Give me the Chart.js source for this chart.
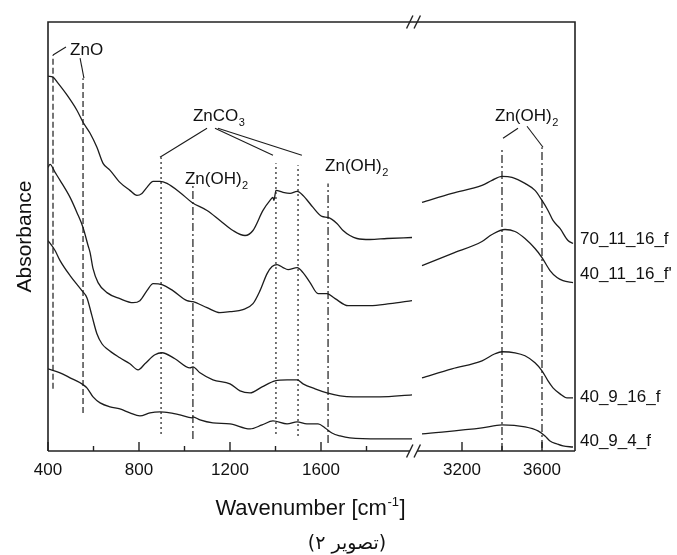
<!DOCTYPE html>
<html><head><meta charset="utf-8">
<script src="https://cdn.jsdelivr.net/npm/chart.js@4.4.1/dist/chart.umd.min.js"></script>
<style>html,body{margin:0;padding:0;background:#fff;}</style>
</head><body>
<canvas id="c" width="677" height="555"></canvas>
<script>
// ---------------- data (wavenumber in cm-1, absorbance in arbitrary units) ----------------
const seriesNames = ['70_11_16_f', "40_11_16_f'", '40_9_16_f', '40_9_4_f'];

const s70_11_16_wn  = [400,422,444,484,527,554,585,615,642,673,716,760,791,813,835,862,892,923,980,1033,1099,1156,1213,1266,1301,1345,1376,1389,1393,1402,1433,1464,1495,1521,1565,1604,1631,1670,1697,1727,1758,1815,1890,2000,
                       3000,3150,3300,3350,3400,3450,3515,3565,3600,3630,3655,3690,3730,3755];
const s70_11_16_abs = [3.74,3.73,3.67,3.55,3.40,3.28,3.17,3.03,2.87,2.80,2.68,2.60,2.55,2.57,2.63,2.69,2.69,2.67,2.58,2.48,2.40,2.30,2.20,2.15,2.20,2.40,2.50,2.53,2.50,2.60,2.58,2.57,2.59,2.55,2.43,2.34,2.33,2.27,2.20,2.15,2.12,2.11,2.12,2.13,
                       2.48,2.57,2.65,2.70,2.74,2.73,2.67,2.60,2.50,2.40,2.30,2.22,2.10,2.07];

const s40_11_16_wn  = [400,409,431,453,497,527,554,576,585,598,620,659,716,774,804,835,862,901,949,1011,1037,1099,1156,1200,1257,1301,1332,1363,1385,1407,1433,1455,1495,1521,1552,1587,1626,1662,1719,1815,1903,2000,
                       3000,3150,3300,3350,3415,3465,3515,3565,3600,3640,3675,3705,3755];
const s40_11_16_abs = [2.83,2.86,2.78,2.70,2.53,2.38,2.23,2.05,1.98,1.82,1.68,1.58,1.52,1.48,1.50,1.60,1.67,1.66,1.60,1.50,1.49,1.43,1.38,1.39,1.41,1.47,1.60,1.77,1.84,1.86,1.83,1.81,1.83,1.78,1.68,1.57,1.57,1.52,1.45,1.45,1.47,1.50,
                       1.85,1.97,2.09,2.16,2.21,2.19,2.12,2.02,1.93,1.80,1.73,1.70,1.68];

const s40_9_16_wn   = [400,431,453,497,549,571,593,615,637,659,716,760,796,826,870,901,958,1024,1037,1068,1125,1200,1244,1288,1341,1398,1451,1495,1521,1574,1626,1684,1741,1859,2000,
                       3000,3150,3300,3365,3400,3465,3515,3565,3600,3630,3655,3690,3725,3755];
const s40_9_16_abs  = [2.10,2.00,1.90,1.75,1.60,1.53,1.35,1.17,1.07,1.02,0.93,0.87,0.81,0.87,0.96,0.98,0.92,0.83,0.84,0.78,0.71,0.67,0.60,0.58,0.64,0.70,0.71,0.71,0.67,0.62,0.58,0.55,0.54,0.54,0.56,
                       0.73,0.82,0.90,0.97,0.99,0.98,0.95,0.88,0.80,0.70,0.63,0.57,0.53,0.53];

const s40_9_4_wn    = [400,453,497,549,571,598,629,673,716,760,804,848,892,936,980,1033,1037,1068,1125,1200,1288,1341,1389,1451,1495,1538,1587,1618,1648,1684,1727,1859,2000,
                       3000,3300,3400,3515,3580,3615,3640,3675,3705,3755];
const s40_9_4_abs   = [0.82,0.78,0.73,0.67,0.63,0.54,0.48,0.44,0.42,0.38,0.35,0.38,0.39,0.38,0.36,0.33,0.34,0.31,0.28,0.27,0.22,0.26,0.30,0.27,0.29,0.27,0.27,0.23,0.18,0.15,0.13,0.12,0.12,
                       0.17,0.23,0.26,0.24,0.20,0.15,0.10,0.07,0.05,0.04];

// series name labels: anchor height (absorbance units) at the right frame
const seriesLabelAbs = [2.11, 1.76, 0.54, 0.10];

// x-axis tick labels (broken axis)
const majorTicks = [400, 800, 1200, 1600, 3200, 3600];
const minorTicks = [600, 1000, 1400, 1800, 3400];

// assignment marker lines
const markerCompound = ['ZnO','ZnO','ZnCO3','Zn(OH)2','ZnCO3','ZnCO3','Zn(OH)2','Zn(OH)2','Zn(OH)2'];
const markerWn       = [422, 554, 897, 1037, 1402, 1499, 1631, 3400, 3600];
const markerTop      = [3.95,3.72,2.93,2.65,2.87,2.85,2.67,3.02,3.03];
const markerBottom   = [0.62,0.38,0.17,0.12,0.17,0.15,0.08,0.00,0.03];

// leader lines from labels to markers
const leaderFromWn  = [422, 541, 1099, 1134, 1147, 3405, 3525];
const leaderFromAbs = [3.95,3.92,3.22, 3.22, 3.22, 3.12, 3.24];
const leaderToWn    = [479, 558, 892, 1389, 1516, 3480, 3605];
const leaderToAbs   = [4.03,3.72,2.93, 2.95, 2.95, 3.22, 3.03];

// assignment labels
const annMain = ['ZnO', 'ZnCO', 'Zn(OH)', 'Zn(OH)', 'Zn(OH)'];
const annSub  = ['', '3', '2', '2', '2'];
const annWn   = [497, 1037, 1002, 1618, 3365];
const annAbs  = [3.95, 3.29, 2.66, 2.79, 3.29];

// ---------------- broken-axis mapping ----------------
const RIGHT_ORIGIN = 2219.78;          // axis unit where 3200 cm-1 sits
const RIGHT_RATIO = 0.2 / 0.2275;      // right segment is slightly compressed
function toAxis(w) { return w < 2600 ? w : RIGHT_ORIGIN + (w - 3200) * RIGHT_RATIO; }

function buildPts(wn, ab) {
  const pts = [];
  for (let i = 0; i < wn.length; i++) {
    if (i > 0 && wn[i] - wn[i-1] > 500) pts.push({x: (toAxis(wn[i]) + toAxis(wn[i-1])) / 2, y: null});
    pts.push({x: toAxis(wn[i]), y: ab[i]});
  }
  return pts;
}

const INK = '#1c1c1c';
const FONT = '"Liberation Sans", Arial, sans-serif';
const dashFor = {'ZnO': [6, 3], 'ZnCO3': [2, 3], 'Zn(OH)2': [8, 3, 2, 3]};

const seriesData = [
  [s70_11_16_wn, s70_11_16_abs],
  [s40_11_16_wn, s40_11_16_abs],
  [s40_9_16_wn, s40_9_16_abs],
  [s40_9_4_wn, s40_9_4_abs]
];

const datasets = [];
seriesData.forEach((s, i) => {
  datasets.push({
    label: seriesNames[i], data: buildPts(s[0], s[1]),
    borderColor: INK, borderWidth: 1.3, pointRadius: 0,
    cubicInterpolationMode: 'monotone', spanGaps: false
  });
});
markerWn.forEach((w, i) => {
  datasets.push({
    label: 'marker ' + markerCompound[i],
    data: [{x: toAxis(w), y: markerBottom[i]}, {x: toAxis(w), y: markerTop[i]}],
    borderColor: INK, borderWidth: 1.2, pointRadius: 0, borderDash: dashFor[markerCompound[i]]
  });
});
leaderFromWn.forEach((w, i) => {
  datasets.push({
    label: 'leader',
    data: [{x: toAxis(w), y: leaderFromAbs[i]}, {x: toAxis(leaderToWn[i]), y: leaderToAbs[i]}].sort((a, b) => a.x - b.x),
    borderColor: INK, borderWidth: 1.1, pointRadius: 0
  });
});

function drawChem(ctx, main, sub, x, y, size) {
  ctx.font = size + 'px ' + FONT;
  ctx.fillText(main, x, y);
  if (sub) {
    const w = ctx.measureText(main).width;
    ctx.font = Math.round(size * 0.65) + 'px ' + FONT;
    ctx.fillText(sub, x + w + 0.5, y + size * 0.3);
  }
}

const decor = {
  id: 'decor',
  afterDatasetsDraw(chart) {
    const {ctx, chartArea: a, scales: {x, y}} = chart;
    ctx.save();
    ctx.strokeStyle = '#222';
    ctx.fillStyle = '#111';
    ctx.lineWidth = 1.6;
    const pL = x.getPixelForValue(toAxis(2000)), pR = x.getPixelForValue(toAxis(3000));
    const bx = (pL + pR) / 2 - 3.5;
    // frame
    ctx.beginPath();
    ctx.moveTo(a.left, a.bottom); ctx.lineTo(a.left, a.top); ctx.lineTo(a.right, a.top); ctx.lineTo(a.right, a.bottom);
    ctx.moveTo(a.left, a.bottom); ctx.lineTo(bx - 3.5, a.bottom);
    ctx.moveTo(bx + 3.5, a.bottom); ctx.lineTo(a.right, a.bottom);
    ctx.stroke();
    // break marks
    ctx.lineWidth = 1.4;
    [a.top, a.bottom].forEach(yy => {
      [-3.75, 3.75].forEach(off => {
        ctx.beginPath();
        ctx.moveTo(bx + off - 3.2, yy + 6.5);
        ctx.lineTo(bx + off + 3.2, yy - 6.5);
        ctx.stroke();
      });
    });
    // inward tick marks
    ctx.lineWidth = 1.4;
    majorTicks.forEach(w => {
      const px = x.getPixelForValue(toAxis(w));
      ctx.beginPath(); ctx.moveTo(px, a.bottom); ctx.lineTo(px, a.bottom - 9); ctx.stroke();
    });
    minorTicks.forEach(w => {
      const px = x.getPixelForValue(toAxis(w));
      ctx.beginPath(); ctx.moveTo(px, a.bottom); ctx.lineTo(px, a.bottom - 5); ctx.stroke();
    });
    // assignment labels
    ctx.textAlign = 'left'; ctx.textBaseline = 'alphabetic';
    annMain.forEach((m, i) => {
      drawChem(ctx, m, annSub[i], x.getPixelForValue(toAxis(annWn[i])), y.getPixelForValue(annAbs[i]), 17);
    });
    // series labels at the right frame
    ctx.font = '17px ' + FONT;
    ctx.textBaseline = 'middle';
    seriesNames.forEach((n, i) => {
      ctx.fillText(n, a.right + 5, y.getPixelForValue(seriesLabelAbs[i]));
    });
    ctx.textBaseline = 'alphabetic';
    // x-axis title with superscript
    const cx = (a.left + a.right) / 2 - 1;
    const t1 = 'Wavenumber [cm', t2 = '-1', t3 = ']';
    ctx.font = '22px ' + FONT; const w1 = ctx.measureText(t1).width, w3 = ctx.measureText(t3).width;
    ctx.font = '13px ' + FONT; const w2 = ctx.measureText(t2).width;
    let sx = cx - (w1 + w2 + w3 + 1) / 2;
    const by = 515;
    ctx.font = '22px ' + FONT; ctx.fillText(t1, sx, by);
    ctx.font = '13px ' + FONT; ctx.fillText(t2, sx + w1 + 0.5, by - 9);
    ctx.font = '22px ' + FONT; ctx.fillText(t3, sx + w1 + w2 + 1, by);
    // caption (Persian)
    ctx.font = '19px "DejaVu Sans", sans-serif';
    ctx.direction = 'rtl';
    ctx.textAlign = 'center';
    ctx.fillText('(تصویر ۲)', 347, 549);
    ctx.restore();
  }
};

new Chart(document.getElementById('c'), {
  type: 'line',
  data: {datasets},
  options: {
    responsive: false,
    animation: false,
    events: [],
    layout: {padding: {left: 5, right: 102, top: 22, bottom: 65.6}},
    plugins: {legend: {display: false}, tooltip: {enabled: false}},
    scales: {
      x: {
        type: 'linear', min: 400, max: toAxis(3765),
        grid: {display: false, drawTicks: false, tickLength: 0}, border: {display: false},
        afterBuildTicks: (scale) => { scale.ticks = majorTicks.map(w => ({value: toAxis(w)})); },
        ticks: {
          autoSkip: false, maxRotation: 0, padding: 9, color: '#111',
          font: {family: FONT, size: 17},
          callback: (v, i) => String(majorTicks[i])
        }
      },
      y: {
        type: 'linear', min: 0, max: 4.28,
        grid: {display: false, drawTicks: false, tickLength: 0}, border: {display: false},
        ticks: {display: false},
        title: {display: true, text: 'Absorbance', color: '#111',
          font: {family: FONT, size: 21, lineHeight: 1}, padding: {top: 9.5, bottom: 12.5}}
      }
    }
  },
  plugins: [decor]
});
</script>
</body></html>
